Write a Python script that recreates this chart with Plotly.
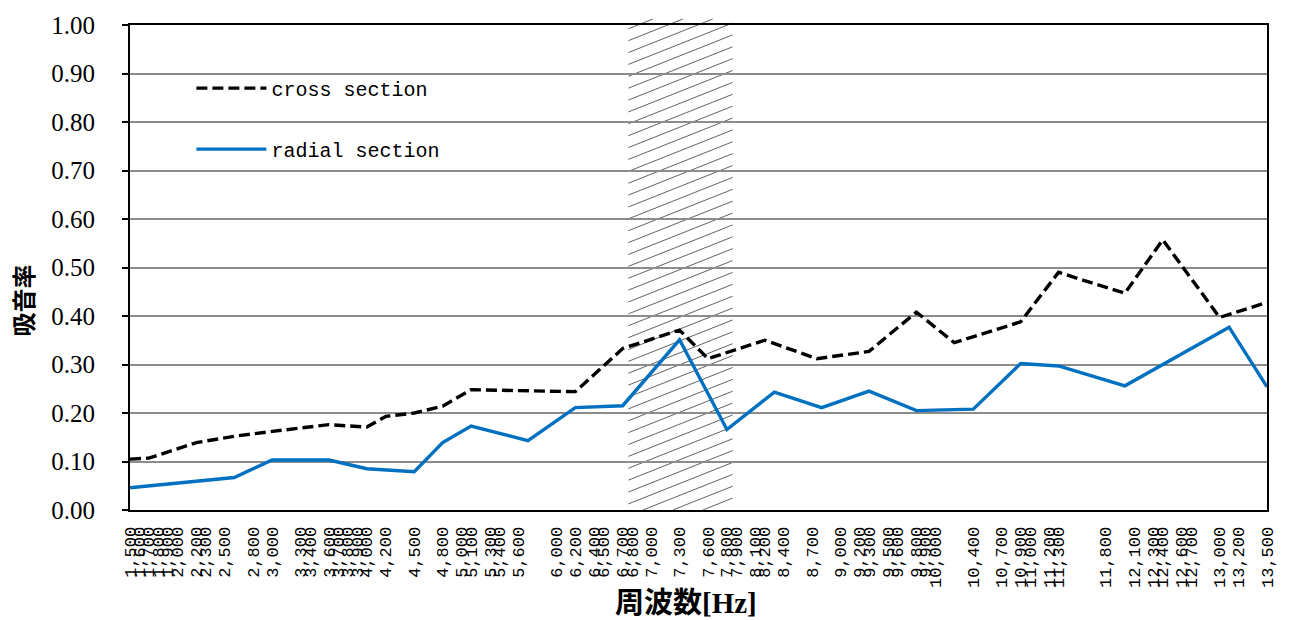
import numpy as np
import plotly.graph_objects as go

# Frequencies printed along the x axis [Hz]
tick_freqs = [1500, 1600, 1700, 1800, 1900, 2000, 2200, 2300, 2500, 2800, 3000,
              3300, 3400, 3600, 3700, 3800, 3900, 4000, 4200, 4500, 4800, 5000,
              5100, 5300, 5400, 5600, 6000, 6200, 6400, 6500, 6700, 6800, 7000,
              7300, 7600, 7800, 7900, 8100, 8200, 8400, 8700, 9000, 9200, 9300,
              9500, 9600, 9800, 9900, 10000, 10400, 10700, 10900, 11000, 11200,
              11300, 11800, 12100, 12300, 12400, 12600, 12700, 13000, 13200, 13500]

# Absorption coefficient, cross section
cross_freq = [1500, 1700, 2200, 2600, 3000, 3600, 4000, 4200, 4500, 4800, 5100,
              5600, 6200, 6700, 7300, 7600, 8200, 8750, 9300, 9800, 10200, 10900,
              11300, 12000, 12400, 13000, 13500]
cross_alpha = [0.105, 0.107, 0.139, 0.152, 0.162, 0.176, 0.171, 0.193, 0.200, 0.214,
               0.248, 0.246, 0.244, 0.333, 0.371, 0.312, 0.350, 0.312, 0.327, 0.408,
               0.345, 0.388, 0.490, 0.447, 0.557, 0.397, 0.428]

# Absorption coefficient, radial section
radial_freq = [1500, 2600, 3000, 3600, 4000, 4500, 4800, 5100, 5700, 6200, 6700,
               7300, 7800, 8300, 8800, 9300, 9800, 10400, 10900, 11300, 12000,
               13100, 13500]
radial_alpha = [0.046, 0.067, 0.103, 0.103, 0.085, 0.079, 0.139, 0.173, 0.143, 0.211,
                0.215, 0.351, 0.166, 0.243, 0.211, 0.245, 0.205, 0.208, 0.302, 0.297,
                0.256, 0.377, 0.254]

# Hatched frequency band
band = [6760, 7860]

W, H = 1290, 620
ML, MR, MT, MB = 130, 19, 20, 110
PW, PH = W - ML - MR, H - MT - MB
X_RANGE = [1500, 13500]
hz_per_px = (X_RANGE[1] - X_RANGE[0]) / PW

fig = go.Figure()

fig.add_trace(go.Scatter(
    x=cross_freq, y=cross_alpha, mode="lines", name="cross section",
    line=dict(color="black", width=3.4, dash="11px,5px"),
    legendgroup="a",
))
fig.add_trace(go.Scatter(
    x=radial_freq, y=radial_alpha, mode="lines", name="radial section",
    line=dict(color="#0070C0", width=3.4),
    legendgroup="b",
))

shapes = []

# thin white breaks across the horizontal gridlines
for xf in np.arange(2573, X_RANGE[1], 1076):
    shapes.append(dict(type="line", xref="x", yref="paper", x0=xf, x1=xf, y0=0, y1=1,
                       line=dict(color="white", width=2.5), layer="between"))

# diagonal hatching over the band (computed in pixel space)
top_px = PH + 6
bw = (band[1] - band[0]) / hz_per_px
slope = 0.4
gap = 12.0
c = -bw * slope
while c < top_px:
    xs = max(0.0, (0 - c) / slope)
    xe = min(bw, (top_px - c) / slope)
    if xe > xs:
        ys, ye = c + slope * xs, c + slope * xe
        shapes.append(dict(
            type="line", xref="x", yref="paper",
            x0=band[0] + xs * hz_per_px, x1=band[0] + xe * hz_per_px,
            y0=ys / PH, y1=ye / PH,
            line=dict(color="#3a3a3a", width=0.8), layer="between"))
    c += gap

fig.update_layout(
    width=W, height=H,
    margin=dict(l=ML, r=MR, t=MT, b=MB),
    paper_bgcolor="white", plot_bgcolor="white",
    shapes=shapes,
    showlegend=True,
    legend=dict(
        x=0.054, y=0.91, xanchor="left", yanchor="top",
        bgcolor="rgba(0,0,0,0)",
        font=dict(family="Liberation Mono", size=20, color="black"),
        itemwidth=70, traceorder="grouped", tracegroupgap=32,
    ),
    annotations=[
        dict(text="<b>吸音率</b>", xref="paper", yref="paper", x=(22 - ML) / PW,
             y=(PH + MT - 298) / PH, textangle=-90, showarrow=False,
             font=dict(family="Noto Sans CJK JP", size=24, color="black"),
             xanchor="center", yanchor="middle"),
        dict(text="<b>周波数[Hz]</b>", xref="paper", yref="paper", x=(688 - ML) / PW,
             y=(PH + MT - 604) / PH, showarrow=False,
             font=dict(family="Liberation Serif, Noto Sans CJK JP", size=29, color="black"),
             xanchor="center", yanchor="middle"),
    ],
)

fig.update_xaxes(
    range=X_RANGE,
    tickmode="array", tickvals=tick_freqs,
    ticktext=[f"{v:,}" for v in tick_freqs],
    tickangle=-90,
    tickfont=dict(family="Liberation Mono", size=17, color="black"),
    showgrid=False, zeroline=False,
    showline=True, linecolor="black", linewidth=2, mirror=True,
    ticks="", ticklabelstandoff=8,
)
fig.update_yaxes(
    range=[0, 1], dtick=0.1, tick0=0, tickformat=".2f",
    tickfont=dict(family="Liberation Serif", size=25, color="black"),
    showgrid=True, gridcolor="#8c8c8c", gridwidth=1.8, zeroline=False,
    showline=True, linecolor="black", linewidth=2, mirror=True,
    ticks="outside", ticklen=6, tickwidth=2, tickcolor="black",
    ticklabelstandoff=22,
)

fig.write_html("out.html")
